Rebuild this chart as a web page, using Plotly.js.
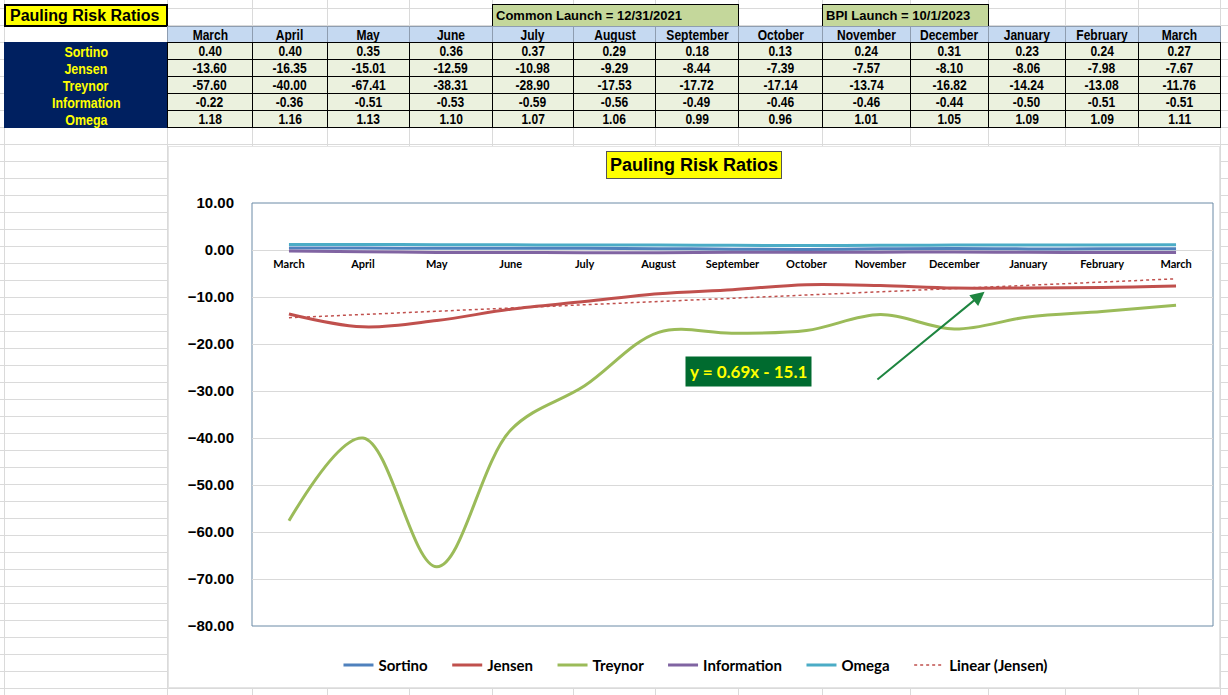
<!DOCTYPE html>
<html>
<head>
<meta charset="utf-8">
<script src="https://cdn.plot.ly/plotly-3.0.1.min.js"></script>
<style>
  body { margin: 0; background: #fff; }
  #sheet { position: relative; width: 1228px; height: 695px; overflow: hidden; background: #fff; }
  .gl { position: absolute; background: #dadada; }
  .cell { position: absolute; box-sizing: border-box; display: flex; align-items: center; justify-content: center;
          font-family: "Liberation Sans", Arial, sans-serif; font-weight: bold; font-size: 14.5px;
          color: #000; white-space: nowrap; }
  .cell span.narrow { display: inline-block; transform: scaleX(0.83); }
  #chart { position: absolute; left: 168px; top: 146px; width: 1052px; height: 542px;
           background: #fff; border: 1px solid #e4e4e4; box-sizing: border-box; }
</style>
</head>
<body>
<div id="sheet"><div id="chart"></div></div>
<script>
// Column labels and values as read from the sheet
const months = ['March', 'April', 'May', 'June', 'July', 'August', 'September', 'October',
                'November', 'December', 'January', 'February', 'March'];
const sortino = [0.40, 0.40, 0.35, 0.36, 0.37, 0.29, 0.18, 0.13, 0.24, 0.31, 0.23, 0.24, 0.27];
const jensen = [-13.60, -16.35, -15.01, -12.59, -10.98, -9.29, -8.44, -7.39, -7.57, -8.10, -8.06, -7.98, -7.67];
const treynor = [-57.60, -40.00, -67.41, -38.31, -28.90, -17.53, -17.72, -17.14, -13.74, -16.82, -14.24, -13.08, -11.76];
const information = [-0.22, -0.36, -0.51, -0.53, -0.59, -0.56, -0.49, -0.46, -0.46, -0.44, -0.50, -0.51, -0.51];
const omega = [1.18, 1.16, 1.13, 1.10, 1.07, 1.06, 0.99, 0.96, 1.01, 1.05, 1.09, 1.09, 1.11];
// Linear trend of Jensen, end points of the dotted line
const trendX = [0, 12];
const trendY = [-14.41, -6.13];

const rowNames = ['Sortino', 'Jensen', 'Treynor', 'Information', 'Omega'];
const rowData = [sortino, jensen, treynor, information, omega];

const sheet = document.getElementById('sheet');
const colEdges = [4, 167, 252, 327, 409, 492, 573, 655, 738, 822, 910, 988, 1065, 1138, 1220];

function div(cls, style) {
    const d = document.createElement('div');
    d.className = cls;
    Object.assign(d.style, style);
    sheet.insertBefore(d, document.getElementById('chart'));
    return d;
}

// Spreadsheet gridlines
for (let y = 8; y < 695; y += 17) div('gl', { left: '0px', top: y + 'px', width: '1228px', height: '1px' });
for (const x of colEdges) div('gl', { left: x + 'px', top: '0px', width: '1px', height: '695px' });

function cell(x0, x1, y0, y1, style, text, narrow = true) {
    const d = div('cell', Object.assign({
        left: x0 + 'px', top: y0 + 'px', width: (x1 - x0 + 1) + 'px', height: (y1 - y0 + 1) + 'px'
    }, style));
    if (text !== undefined) {
        const s = document.createElement('span');
        if (narrow) s.className = 'narrow';
        s.textContent = text;
        d.appendChild(s);
    }
    return d;
}

// Title and launch notes
cell(4, 167, 4, 26, {
    background: '#ffff00', border: '2px solid #000', justifyContent: 'flex-start', paddingLeft: '4px',
    fontSize: '16px'
}, 'Pauling Risk Ratios', false);
cell(492, 738, 4, 26, {
    background: '#c4d79b', border: '1px solid #000', justifyContent: 'flex-start', paddingLeft: '3px',
    fontSize: '13px'
}, 'Common Launch = 12/31/2021', false);
cell(822, 988, 4, 26, {
    background: '#c4d79b', border: '1px solid #000', justifyContent: 'flex-start', paddingLeft: '3px',
    fontSize: '13px'
}, 'BPI Launch = 10/1/2023', false);

// Header row
months.forEach((m, i) => {
    cell(colEdges[i + 1], colEdges[i + 2], 26, 42, { background: '#c5d9f1', border: '1px solid #8e9db0' }, m);
});

// Row labels
cell(4, 167, 42, 127, { background: '#002060' });
rowNames.forEach((name, r) => {
    cell(4, 167, 42 + r * 17, 59 + r * 17, { color: '#ffff00', fontSize: '15px' }, name);
});

// Values
rowData.forEach((vals, r) => {
    vals.forEach((v, i) => {
        cell(colEdges[i + 1], colEdges[i + 2], 42 + r * 17, 59 + r * 17,
             { background: '#ebf1de', border: '1px solid #000' }, v.toFixed(2));
    });
});

// Chart
const xs = months.map((_, i) => i);
const pad = '\u00a0\u00a0\u00a0\u00a0';
const lineTrace = (name, y, color) => ({
    x: xs, y, name: name + pad, type: 'scatter', mode: 'lines',
    line: { color, width: 3, shape: 'spline', smoothing: 1 },
    hoverinfo: 'skip',
});

const traces = [
    lineTrace('Sortino', sortino, '#4f81bd'),
    lineTrace('Jensen', jensen, '#c0504d'),
    lineTrace('Treynor', treynor, '#9bbb59'),
    lineTrace('Information', information, '#8064a2'),
    lineTrace('Omega', omega, '#4bacc6'),
    {
        x: trendX, y: trendY, name: 'Linear (Jensen)', type: 'scatter', mode: 'lines',
        line: { color: '#c0504d', width: 1.5, dash: 'dot' }, hoverinfo: 'skip',
    },
];

const layout = {
    width: 1050,
    height: 540,
    margin: { l: 83, r: 6, t: 56, b: 60 },
    paper_bgcolor: '#ffffff',
    plot_bgcolor: '#ffffff',
    showlegend: true,
    legend: {
        orientation: 'h', x: 0.462, xanchor: 'center', y: -0.09, yanchor: 'middle',
        font: { family: 'Lato, "Open Sans", sans-serif', size: 15, weight: 'bold', color: '#000' },
        itemwidth: 30,
    },
    xaxis: {
        range: [-0.5, 12.5],
        tickvals: xs,
        ticktext: months,
        anchor: 'free',
        position: 80 / 90,
        showgrid: false, zeroline: false, showline: false,
        ticks: 'outside', ticklen: 4, tickcolor: 'rgba(0,0,0,0)',
        tickfont: { family: 'Lato, "Open Sans", sans-serif', size: 11, weight: 'bold', color: '#000' },
        fixedrange: true,
    },
    yaxis: {
        range: [-80, 10],
        dtick: 10,
        tickformat: '.2f',
        showgrid: true, gridcolor: '#d9d9d9', gridwidth: 1,
        zeroline: false, showline: false,
        ticks: 'outside', ticklen: 14, tickcolor: 'rgba(0,0,0,0)',
        tickfont: { family: '"Liberation Sans", Arial, sans-serif', size: 15, weight: 'bold', color: '#000' },
        fixedrange: true,
    },
    shapes: [{
        type: 'rect', xref: 'paper', yref: 'paper', x0: 0, x1: 1, y0: 0, y1: 1,
        line: { color: '#6a8aa6', width: 1 }, layer: 'below',
    }],
    annotations: [
        {
            text: 'Pauling Risk Ratios', xref: 'paper', yref: 'paper', x: 0.46, y: 1.0896,
            xanchor: 'center', yanchor: 'middle',
            showarrow: false, bgcolor: '#ffff00', bordercolor: '#555555', borderwidth: 1, borderpad: 3,
            font: { family: 'Arial, "Liberation Sans", sans-serif', size: 18, weight: 'bold', color: '#000' },
        },
        {
            text: 'y = 0.69x - 15.1', xref: 'x', yref: 'y', x: 6.22, y: -25.9,
            xanchor: 'center', yanchor: 'middle',
            showarrow: false, bgcolor: '#006b2f', borderpad: 4,
            font: { family: 'Lato, "Open Sans", sans-serif', size: 17, weight: 'bold', color: '#ffff00' },
        },
        {
            text: '', xref: 'x', yref: 'y', x: 9.41, y: -8.9,
            axref: 'x', ayref: 'y', ax: 7.94, ay: -27.8,
            showarrow: true, arrowhead: 2, arrowsize: 1.4, arrowwidth: 2, arrowcolor: '#1e8540',
        },
    ],
};

Plotly.newPlot('chart', traces, layout, { displayModeBar: false, staticPlot: true });
</script>
</body>
</html>
